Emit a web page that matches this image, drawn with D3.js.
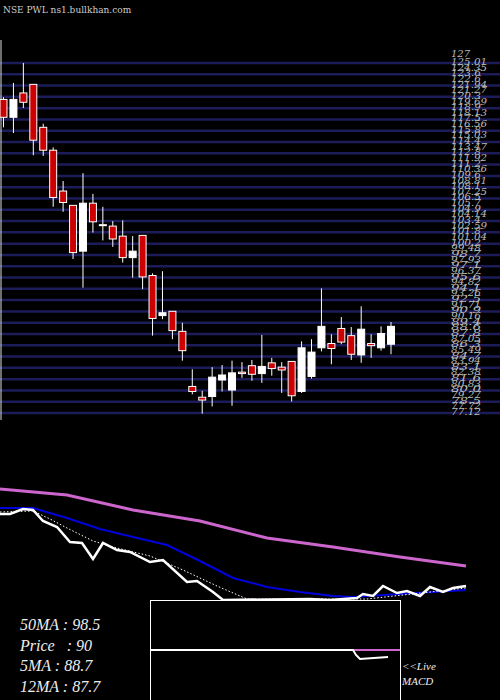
<!DOCTYPE html>
<html><head><meta charset="utf-8">
<script src="https://cdn.jsdelivr.net/npm/d3@7"></script>
<style>body{margin:0;background:#000}svg{display:block}</style></head>
<body><svg id="c" width="500" height="700"></svg>
<script>
const opens  =[120.1,117.6,121.0,122.2,116.2,113.0,107.3,105.3,98.9,105.6,102.6,102.4,101.0,98.0,101.1,95.5,89.9,90.5,87.7,80.0,78.5,78.6,80.9,79.5,82.0,82.9,81.8,83.3,82.7,83.5,79.3,81.4,85.4,86.0,88.1,87.1,84.4,86.0,85.4,85.9];
const highs  =[120.4,122.4,125.2,122.2,116.7,113.4,108.7,105.3,109.8,106.9,105.1,103.1,103.2,101.0,101.1,95.8,96.1,90.5,88.9,82.4,79.4,82.7,83.0,83.6,83.4,83.7,87.2,84.0,83.4,83.5,86.3,86.6,93.7,87.3,89.7,88.3,91.2,87.3,88.4,89.0];
const lows   =[116.2,115.4,118.9,112.3,112.2,105.1,104.4,97.8,93.8,101.5,100.4,99.5,97.3,95.2,93.6,87.1,89.4,86.6,83.6,78.9,76.2,77.2,79.3,77.3,81.2,80.8,80.5,81.5,79.1,77.9,79.1,81.1,84.9,83.1,85.9,83.7,83.3,84.0,85.0,84.5];
const closes =[117.6,120.1,119.7,114.4,113.0,106.4,105.7,98.7,105.6,103.0,102.5,100.6,98.0,98.9,95.3,89.5,90.3,87.8,85.0,79.3,78.1,81.3,81.6,81.9,81.8,81.7,82.8,82.5,82.3,78.7,85.4,84.8,88.4,85.3,86.2,84.5,88.0,85.7,87.4,88.4];
const axisLabels=["125.01","124.35","123.6","122.6","121.94","121.27","120.3","119.69","118.9","118.13","117.5","116.56","115.8","115.03","114.4","113.47","112.8","111.92","111.2","110.36","109.6","108.81","108.1","107.25","106.5","105.7","104.9","104.14","103.4","102.59","101.8","101.04","100.2","99.48","98.7","97.93","97.1","96.37","95.6","94.82","94.1","93.26","92.5","91.71","90.9","90.16","89.4","88.6","87.8","87.05","86.3","85.49","84.7","83.94","83.1","82.38","81.6","80.83","80.0","79.27","78.5","77.72","77.12"];
const topLabel="127";
// lower panel (indicator units, larger = lower)
const maX   =[0,67,133,200,267,333,400,466];
const ma50  =[489,495,510,521,538,547,557,566];
const blueX =[0,33,67,100,133,167,200,233,267,300,333,353,400,433,466];
const blue  =[508,508,518,529,537,545,561,578,587,592,596,597,594,592,590];
const pxX   =[0,10,23,33,43,57,70,82,93,103,117,130,150,163,187,197,213,223,310,330,357,363,373,383,397,407,420,430,443,453,466];
const price =[514,514,509,510,521,527,542,543,559,543,550,552,562,560,582,581,592,600,599,600,598,594,596,586,593,591,596,587,592,588,586];
const dotX  =[0,33,50,67,93,117,150,183,217,247,367,466];
const dots  =[512,511,519,528,541,548,556,570,586,599,599,588];
const macdX =[150,353,356,360,388];
const macdSig=[650,650,650,650,650];
const macdLine=[650,650,655,659,657];
const infoLabels=["50MA : 98.5","Price   : 90","5MA : 88.7","12MA : 87.7"];

const svg=d3.select("#c");
svg.append("rect").attr("width",500).attr("height",700).attr("fill","#000");
const y=d3.scaleLinear().domain([127,76]).range([50,415.1]);
const x=d3.scaleLinear().domain([0,39]).range([3.5,391]);
const li=d3.scaleLinear().domain([0,62]).range([61,411]);
// grid
axisLabels.forEach((l,i)=>{ if(i%2===0){
 svg.append("line").attr("x1",0).attr("x2",500).attr("y1",li(i)+2).attr("y2",li(i)+2).attr("stroke","#1c1c5a").attr("stroke-width",2.5);}});
svg.append("line").attr("x1",1).attr("x2",1).attr("y1",40).attr("y2",420).attr("stroke","#ddd").attr("stroke-width",1);
// labels
svg.append("text").attr("x",451).attr("y",57).text(topLabel).attr("fill","#bbb").attr("font-family","DejaVu Serif").attr("font-style","italic").attr("font-size",10);
axisLabels.forEach((l,i)=>svg.append("text").attr("x",451).attr("y",li(i)+4).text(l).attr("fill","#bbb").attr("font-family","DejaVu Serif").attr("font-style","italic").attr("font-size",10).attr("textLength",l.length>5?36:30).attr("lengthAdjust","spacingAndGlyphs"));
// candles
const g=svg.append("g");
opens.forEach((o,i)=>{const c=closes[i],up=c>=o,cx=x(i);
 g.append("line").attr("x1",cx).attr("x2",cx).attr("y1",y(highs[i])).attr("y2",y(lows[i])).attr("stroke","#fff").attr("stroke-width",1);
 const t=y(Math.max(o,c)),b=y(Math.min(o,c));
 g.append("rect").attr("x",cx-3.5).attr("width",7).attr("y",t).attr("height",Math.max(1,b-t)).attr("fill",up?"#fff":"#cc0000").attr("stroke","#fff").attr("stroke-width",1);
});
svg.append("text").attr("x",3).attr("y",13).text("NSE PWL ns1.bullkhan.com").attr("fill","#ccc").attr("font-family","DejaVu Serif").attr("font-size",9);
// lower panel
const ly=d3.scaleLinear().domain([470,700]).range([470,700]);
const lx=d3.scaleLinear().domain([0,500]).range([0,500]);
const line=(xs,ys)=>d3.line().x((d,i)=>lx(xs[i])).y(d=>ly(d))(ys);
svg.append("path").attr("d",line(maX,ma50)).attr("fill","none").attr("stroke","#cc66cc").attr("stroke-width",3);
svg.append("path").attr("d",line(blueX,blue)).attr("fill","none").attr("stroke","#0000dd").attr("stroke-width",2);
svg.append("path").attr("d",line(dotX,dots)).attr("fill","none").attr("stroke","#fff").attr("stroke-width",1).attr("stroke-dasharray","1.5,2");
svg.append("path").attr("d",line(pxX,price)).attr("fill","none").attr("stroke","#fff").attr("stroke-width",2.5);
svg.append("rect").attr("x",150.5).attr("y",600.5).attr("width",250).attr("height",110).attr("fill","#000").attr("stroke","#fff").attr("stroke-width",1);
svg.append("path").attr("d",line(macdX.slice(0,2),macdSig.slice(0,2))).attr("stroke","#fff").attr("stroke-width",2);
svg.append("line").attr("x1",lx(353)).attr("x2",lx(400)).attr("y1",ly(650)).attr("y2",ly(650)).attr("stroke","#cc66cc").attr("stroke-width",2);
svg.append("path").attr("d",line(macdX,macdLine)).attr("fill","none").attr("stroke","#fff").attr("stroke-width",2);
infoLabels.forEach((t,i)=>svg.append("text").attr("x",20).attr("y",630+i*20.5).text(t).attr("fill","#eee").attr("font-family","Liberation Serif").attr("font-style","italic").attr("font-size",16).attr("xml:space","preserve"));
svg.append("text").attr("x",402).attr("y",670).text("<<Live").attr("fill","#eee").attr("font-family","Liberation Serif").attr("font-style","italic").attr("font-size",11);
svg.append("text").attr("x",402).attr("y",685).text("MACD").attr("fill","#eee").attr("font-family","Liberation Serif").attr("font-style","italic").attr("font-size",11);
</script></body></html>
